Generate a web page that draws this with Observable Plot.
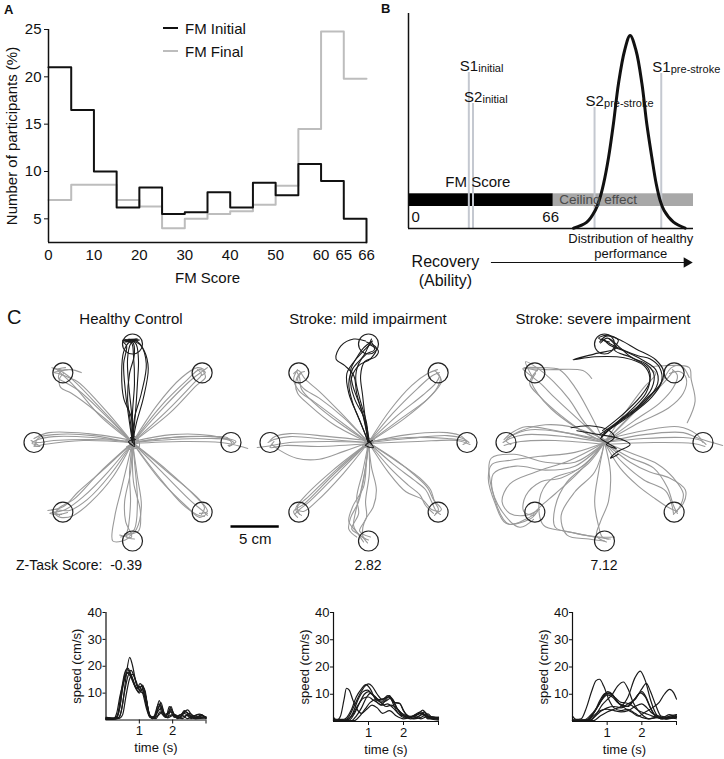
<!DOCTYPE html>
<html><head><meta charset="utf-8">
<script src="https://cdn.jsdelivr.net/npm/d3@7"></script>
<script src="https://cdn.jsdelivr.net/npm/@observablehq/plot@0.6"></script>
<style>
body{margin:0;background:#fff;overflow:hidden;font-family:"Liberation Sans",Arial,sans-serif;color:#111;}
#fig{position:relative;width:724px;height:759px;overflow:hidden;}
.abs{position:absolute;white-space:nowrap;line-height:1;}
.box{position:absolute;}
.leg{position:absolute;left:163px;display:flex;align-items:center;height:16px;font-size:15px;}
.leg span.ln{display:inline-block;width:15px;height:2px;margin-right:7px;}
</style></head><body><div id="fig"></div>
<script>
// ---------------- Panel A data ----------------
const fmBinStart = [0,5,10,15,20,25,30,35,40,45,50,55,60,65];
const fmBinEnd   = [5,10,15,20,25,30,35,40,45,50,55,60,65,66];
const fmInitial  = [21,16.5,10,6.2,8.3,5.5,5.7,7.8,6.2,8.8,7.5,10.8,9,5];
const fmFinal    = [7,8.6,8.6,7,6.3,4,5,5.5,5.8,6.5,8.5,14.5,24.8,19.8];
const fmTickValues = [0,10,20,30,40,50,60,65,66];
const pctTicks = [5,10,15,20,25];

// ---------------- Panel B data ----------------
const subjectNames = ["S1","S2","S2","S1"];
const subjectSubs  = ["initial","initial","pre-stroke","pre-stroke"];
const subjectX     = [27.5,29.4,84.8,115.2];
const subjectH     = [156,125,121,155];
const healthyDistX = [75.2,81.3,85.1,86.9,88.9,91.2,93.4,95.7,98.5,101,103.7,106.4,108.6,110.9,112.9,114.7,116.5,120.8,126.1];
const healthyDistY = [0.3,6.3,18,28,44.7,71.3,104.7,144.7,178,193,178,144.7,104.7,71.3,44.7,28,18,6.3,0.3];
const fmScaleMax = 66;
const abilityMax = 129.9;

// ---------------- Panel C data (cm; targets at 10 cm) ----------------
const targetX = [10,7.07,0,-7.07,-10,-7.07,0,7.07];
const targetY = [0,7.07,10,7.07,0,-7.07,-10,-7.07];

const healthyTop = [
"0,0 -0.3,2 -0.7,5 -0.9,8 -0.6,9.8 -1,10.3 0.6,10.4",
"0,0 0.2,2.5 0.9,5 1.4,8 0.8,9.9 -0.4,10.5 0.5,10.3",
"0,0 -0.1,3 -0.4,6 -0.5,8.5 -0.2,10 0.3,10.4",
"0,0 0.3,3 0.5,6 0.6,8.5 0.3,10.1 -0.7,10.4",
"0,0 -0.2,2 -0.5,4.5 -0.3,7 0.2,9 0,10.2 -0.8,10.2 0.4,10.5",
"0,0 0.4,2 1.1,4.5 1.6,7.5 1.2,9.3 0.4,10.3 -0.9,10.3",
"0.2,-0.2 -0.1,2.5 -0.9,4.5 -1.1,7 -0.9,9.2 -0.3,10.2 0.7,10.4",
"0,0 0,3 0.2,6 0.1,8.8 -0.1,10.1 -1,10.4 0.5,10.5",
"0.3,0.3 -0.4,0.1 0.2,-0.4 -0.2,0.5"
];
const healthyOther = [
"0,0 -3,3.2 -6,6.3 -7.2,7.2 -8.2,7.6 -7,7.3",
"0,0 -2.8,2.8 -5.5,5.3 -6.8,6.1 -7.5,6.5 -7.3,7.2 -6.6,7.4",
"0,0 -3.5,3 -6.2,5 -7.3,5.6 -7.4,6.5 -7,7",
"0,0 -2.5,3 -4.8,5.5 -5.6,6.2 -6.5,6.6 -7.5,7 -8,7.1 -6.3,7.4 -5.2,7.1",
"0,0 -3.2,2.6 -5.8,5.6 -7,6.8 -7.6,7.4 -6.8,7.6",
"0,0 -4,0.5 -8,0.6 -9.6,0.3 -10.2,-0.1 -9.6,-0.2",
"0,0.1 -4,0.3 -8,0.2 -9.8,0 -10.3,0.2",
"0,-0.1 -4,0.7 -8,0.8 -9.5,0.5 -9.9,-0.3 -9.4,-0.4",
"0,0 -5,0.2 -9,-0.2 -10,-0.4 -9.7,0",
"0,0.2 -4.5,0.9 -8.5,1 -10,0.4",
"0,0 4,0.3 8,0.4 9.8,0.3 10.3,0",
"0,0 4,0.5 8,0.6 9.6,0.5 10.1,-0.2 9.7,-0.3",
"0,-0.1 5,0.1 9,0 10.2,-0.2 11.7,-0.6",
"0,0.1 4,0.8 8,0.7 9.9,0.2",
"0,0 5,0.6 9,0.5 10.5,0.1 9.8,-0.4",
"0,0 3,3.4 6,6.4 7.2,7.3 7.6,7.6",
"0,0 3.5,3.2 6.2,6 7,6.9 6.6,7.4",
"0,0 2.8,3.6 5.5,6.3 6.8,7.4 7.4,7.1 7,6.8",
"0,0 3.8,3 6.5,5.8 7.4,6.6 7.2,7.2",
"0,0 2.5,3.8 5,6.6 6.6,7.6 7.3,7.4",
"0,0 -2.5,-3 -5,-5.5 -6.8,-6.8 -8.4,-7.2 -7.2,-7.3",
"0,0 -3,-2.8 -5.5,-5 -7,-6.5 -8.6,-6.9",
"0,0 -2,-3.5 -4.2,-6 -6,-7.4 -7.3,-7.6 -8,-7.2",
"0,0 -3.3,-3 -6,-5.8 -7.4,-6.6 -7.8,-7.3 -6.6,-7.1",
"0,0 -2.2,-3.2 -4.6,-5.8 -6.4,-6.9 -8.2,-6.8 -7.4,-7.4",
"0,0 -0.3,-3 -0.2,-6 -0.4,-8.5 -0.6,-9.6 0.2,-9.8",
"0,0 0.3,-3 0.5,-6 0.2,-8.8 -0.5,-9.4 -1.2,-9.6",
"0,0 -0.6,-2.5 -1.2,-5 -1.8,-7.5 -2,-10 -1,-10 -0.4,-9.7",
"0,0 0.1,-4 0.8,-7 0.6,-9 -0.8,-9.3",
"0,0 -0.2,-3 -0.8,-6 -0.7,-8 -0.1,-9.6 -1.3,-9.4",
"0,0 0.5,-3.5 0.9,-6.5 0.4,-8.8 -0.3,-9.5",
"0,0 3,-3 6,-6 7.2,-7 7.6,-7.4",
"0,0 3.5,-2.8 6.4,-5.5 7.3,-6.6 7,-7.3",
"0,0 2.6,-3.4 5,-6.2 6.5,-7.3 7.3,-7.5",
"0,0 3.8,-3.2 6.8,-5.8 7.6,-7 6.8,-7.2",
"0,0 2.8,-3.8 5.6,-6.6 6.8,-7.6 7.6,-7.2",
"0.6,0.4 -0.5,0.2 0.2,-0.5 -0.6,-0.4 0.5,-0.1",
"-0.8,0.1 0.3,0.6 0.7,-0.4 -0.3,-0.7"
];

const mildTop = [
"0,0 -0.8,2 -1.6,4 -2,6 -1.6,7.5 -0.5,8.8 0,9.8 0.3,10.5",
"0,0 -0.5,2.5 -1.2,5 -1.5,6.8 -2.4,7.8 -3.3,8.5 -2.8,9.8 -1.5,10.5 -0.3,10.3",
"0,0 -0.2,2 -0.9,4.5 -1.3,6.5 -1,8 -0.2,9 0.6,9.4 0.3,10.2",
"0,0 -1,2.5 -2,5 -2.2,7 -1.4,8.3 -0.3,9.5 0.2,10",
"0,0 -0.3,2.2 -0.6,4.8 -0.8,6.8 -0.4,8.2 0.7,8.7 1,9.3 0.2,9.9",
"0,0 -0.6,3 -1.6,5.8 -1.8,7.4 -1.2,8.6 -0.5,9.6 0.4,10.3",
"0.1,0 -0.4,2.4 -1.4,4.4 -1.8,6.2 -1,7.8 0.2,8.5 0.8,9.6 -0.2,10.2",
"0.4,0.2 -0.3,-0.3 0.5,-0.5 -0.2,0.4 0.3,-0.1"
];
const mildOther = [
"0,0 -3,2 -5.5,4 -6.8,5.4 -7,6.6 -7.3,7.2",
"0,0 -2.5,2.5 -5,4.5 -6.6,5.5 -7.2,6.4 -6.8,7.1",
"0,0 -3.5,1.8 -6,3.8 -7.2,5 -7.4,6 -7,7 -6.5,7.2",
"0,0 -2.8,3 -5,5.2 -6.4,6.4 -7.1,7.3 -7.6,7",
"0,0 -3.2,2.4 -5.6,4.2 -7,5.2 -7.6,6.4 -7.2,7.4",
"0,0 -4,0.3 -8,0.6 -9.6,0.3 -10.2,0",
"0,0 -4,0.1 -8,0 -9.8,-0.3 -11.3,-0.5",
"0,0 -2.5,-0.9 -5,-1.7 -7.3,-1.6 -9,-0.8 -9.8,-0.2",
"0,0.2 -4,0.6 -8,0.9 -9.5,0.6 -10,0.2",
"0,-0.1 -5,-0.4 -8.5,-0.3 -10,-0.5 -9.6,0.1",
"0,0 -3,-3 -6,-6 -7,-6.8 -7.5,-7.3",
"0,0 -3.3,-2.8 -6.2,-5.6 -7.2,-6.5 -7,-7.3",
"0,0 -2.6,-3.2 -5.3,-6 -6.6,-7 -7.3,-6.8",
"0,0 -3.5,-3.2 -6.5,-6.2 -7.6,-7 -7.2,-7.6",
"0,0 -3.6,-2.8 -6.4,-5.4 -7.4,-6.8 -6.8,-7.4",
"0,0 2.5,3 5,5.5 6.5,6.8 7.2,7.1",
"0,0 3,2.8 5.5,4.8 6.8,6 7.2,6.8 6.7,7.3",
"0,0 2.2,3.3 4.4,5.8 6,7 7,7.4",
"0,0 3.4,2.5 6,4.4 7,5.6 7.3,6.6 6.9,7.1",
"0,0 3.6,2.4 6.2,4.6 7.4,6.2 7,7",
"0,0 4,0.4 8,0.7 9.6,0.4 10.2,0",
"0,0 4,0.8 8,1 9.5,0.6 9.9,0.1",
"0,-0.1 5,0.1 9,0.2 10.3,-0.2",
"0,0.1 4,0.5 8,0.4 10,0.1 9.6,-0.2",
"0,0 2.5,-2.2 4.6,-3.8 5.8,-4.8 6.4,-6 6.9,-7 7.3,-7.3",
"0,0 2.2,-2.6 4,-4.3 5.2,-5.3 5.8,-6.4 6.6,-7.2",
"0,0 3,-2 5.2,-3.6 6.3,-4.8 6.7,-6 7.1,-6.8 6.7,-7.4",
"0,0 2,-3 3.8,-5 5.5,-5.8 6.4,-6.8 7.2,-7",
"0,0 2.8,-1.8 4.8,-3.4 6,-4.6 6.6,-5.8 7.4,-6.8 6.8,-7.2",
"0,0 -0.3,-2.5 -0.8,-5 -1.3,-7 -1.5,-8.5 -0.8,-9.5 0,-9.9",
"0,0 0.3,-2.5 0.8,-4.8 0.5,-6.5 -0.4,-8 -0.6,-9.4 -0.1,-10.2",
"0,0 -0.6,-3 -1.2,-5.6 -1,-7.2 -1.7,-8.8 -1,-9.3 -0.3,-9.8",
"0,0 0.1,-3 -0.3,-6 -0.2,-7.6 -0.9,-9 0.2,-9.6",
"0,0 -0.2,-2 -0.5,-4.5 -1.6,-6.5 -2,-8 -1.2,-9.1 -0.5,-10.1",
"0,0 -0.4,-3.2 -1,-6 -1.8,-7.6 -2,-8.8 -1.2,-9.6",
"0.6,0.3 -0.5,0.4 0.1,-0.6 -0.6,-0.3 0.5,0"
];

const severeTop = [
"-0.2,0.8 2,2.5 4.2,4.2 5.4,6 5.2,7.4 3.8,8.4 2.2,9.2 0.5,9.9 0,10.4",
"-0.3,0.6 1.5,2.2 3.5,3.8 4.8,5.5 5,7 4.2,8 2.8,8.6 1.6,9.6 0.3,10.6 -0.4,10.1",
"0,1 2.4,2.6 4.8,4.6 5.8,6.2 5.6,7.6 4.6,8.5 3.4,8.8 0.8,9.9 -0.3,10.5",
"-0.5,0.8 1.2,2 3,3.6 4.2,5 4.6,6.6 4,7.8 2,8.6 -1,8.7 -3.2,8.4 -1,9 1.2,9.6 0.5,10.5",
"-0.2,1.2 1.8,2.8 3.6,4.6 4.6,6.2 4.4,7.6 2.8,8.6 1,9.4 1.4,10.4 0.2,10.8 -0.5,10.2",
"-3.4,1.5 -1.5,1.7 0.5,1.2 1,0.5 0.2,-0.2 1.2,-0.6 -0.3,0.3",
"-0.4,0.4 0.8,1.6 2.8,3 4.4,4.6 5.6,5.8 6,7.2 5.2,8.4 3.2,9.5 1.6,10.4 0.3,10.9 -0.6,10.6 0.5,10.2",
"-2.8,1.2 -0.5,0.8 1.5,0.4 2.6,-0.2 1.2,-1 0.6,-1.6 1.4,-1.2"
];
const severeOther = [
"0,0 -4,0.6 -8,0.8 -9.6,0.4 -10.3,0",
"0,0.2 -4,1 -7.5,1.3 -9.4,0.7 -10,0.2 -9.5,-0.2",
"0,-0.2 -5,0.2 -8.5,0.1 -10.2,-0.3",
"0,0.3 -3,1.5 -6,1.8 -8.5,1.2 -9.8,0.5",
"0,0 -4,1 -8,1.6 -9.4,1 -10.2,0.3",
"0,0 -2.5,2.2 -5,4.5 -6.5,6 -7.5,6.8 -8.3,7.5 -6.8,7.3",
"0,0 -3,1.6 -5.4,3.4 -6.8,5 -7.4,6.2 -7,7",
"0,0 -1.5,3 -3,5.6 -4.6,7.4 -6.4,7.6 -8.2,7.6 -6,7.4 -2.2,7.3 -1.3,6.5",
"0,0 -2,1 -4.5,2.8 -6.5,4.6 -7.6,6 -6.8,7.4",
"0,0 -2,2 -3.6,4.4 -5.2,6.2 -6.6,7.4 -8,8.2 -7.4,6.8",
"0,0 2.5,2.6 5,5 6.4,6.5 7,7.3",
"0,0 3,2.2 5.6,4 7,5.6 7.4,6.8 6.9,7.4",
"0,0 2.2,3.2 4,5.6 5.2,7 4.6,7.6 6.2,7.8 8.6,7.6 8.8,6.4 9.2,4.2 8.4,2",
"0,0 3.5,2 6.5,3.5 8,5 8.3,6.5 7.6,7.2 6.6,7",
"0,0 3,3 5.6,5.8 6.8,7.6 7.8,7.8 8.6,6.6",
"0,0 4,0.4 8,0.5 9.8,0.2 10.3,-0.2",
"0,0 4,0.8 8,1 9.6,0.4 12,-0.3",
"0,-0.2 5,0 9,-0.1 10.2,-0.4",
"0,0.3 4,1.2 7.5,1.6 9.4,0.8 10,0",
"0,0 2.5,-1.5 5,-2.6 6.4,-4.6 7,-6.4 7.4,-7.2",
"0,0 2,-2.2 4,-3.8 6.2,-4.9 6.8,-6.2 7,-7.2",
"0,0 3,-1.2 5.4,-2.2 7,-3.6 8,-5.2 7.6,-6.6 7,-7.3",
"0,0 1.6,-2.6 3.4,-4.4 5,-5.6 6.5,-6.6 7.4,-7",
"0,0 2.6,-2 4.6,-3 6.6,-3.6 8.2,-4.8 8,-6.2 7.2,-7",
"0,0 -0.6,-3 -1,-6 -0.6,-8.5 -0.2,-9.6 0.6,-9.8",
"0,0 -1.5,-2 -3.8,-4 -5,-6.5 -5,-8.6 -3,-9.2 -0.6,-9.6 1,-9.6",
"0,0 0.6,-3 0.4,-6 -0.4,-8 -0.8,-9.5 0.2,-10.1",
"0,0 -2.5,-2.6 -5.5,-3.8 -6.6,-5.8 -6.2,-8.4 -4,-9 -1.5,-9.5 0.4,-9.8",
"0,0 -1,-3 -3,-5 -4.4,-7.4 -3.8,-9.4 -1.6,-9.8 0,-10",
"0,0 -3,-2.4 -6,-2.8 -9,-2.4 -11.3,-3.2 -11,-6.2 -9.7,-8.3 -8,-7.8 -7,-7.2",
"0,0 -3,-1 -6.5,-1.4 -9.5,-1.8 -11.4,-2.2 -11.8,-3.6 -11.1,-6.2 -10,-8.2 -7.6,-7.8 -6.8,-7",
"0,0 -2.6,-3 -5,-5.2 -6.4,-6.4 -7.2,-7.2",
"0,0 -3.5,-1.8 -7,-3 -9.6,-4.2 -10.4,-6 -9.6,-7.2 -8,-7.4 -6.6,-6.8",
"0,0 -2,-2.2 -4.4,-3.6 -6.5,-4 -8,-5.4 -8.2,-7 -7.2,-7.4",
"0,0 -3,-2 -6,-2 -9.2,-1.2 -11.5,-1.6 -11.6,-4 -10.4,-7 -8.6,-8.6 -7.2,-7.8"
];
const zScores = ["-0.39","2.82","7.12"];
const groupTitles = ["Healthy Control","Stroke: mild impairment","Stroke: severe impairment"];

// ---------------- Speed profiles (time s, speed cm/s) ----------------
const healthySpeed = [
"0,0.8 0.2,0.5 0.4,1 0.5,6 0.6,16 0.71,23.3 0.8,20 0.9,14 1.0,12 1.1,13 1.2,8 1.3,2 1.4,0.5 1.55,4 1.65,6.5 1.75,2 1.85,1 1.95,4 2.05,2 2.2,0.8 2.35,3.5 2.5,1.5 2.7,0.5 2.85,2 3,0.5",
"0,0.3 0.25,0.5 0.35,2 0.45,10 0.55,17 0.65,19.3 0.75,17 0.9,12 1.0,10 1.08,11.5 1.18,8 1.3,1.5 1.45,0.8 1.6,7.2 1.7,3 1.8,1 1.9,5 2.0,3 2.1,1 2.3,2.5 2.45,3.8 2.6,1.5 2.8,2.2 3,1",
"0,1 0.3,0.8 0.4,4 0.5,12 0.62,17.5 0.72,16.5 0.85,13 0.97,10.5 1.07,12.5 1.17,11 1.25,5 1.35,1 1.5,2 1.62,5.5 1.75,1.5 1.95,3 2.1,1.5 2.3,0.5 2.5,2.5 2.7,1 2.9,1.5 3,0.5",
"0,0.5 0.35,0.5 0.45,3 0.55,10 0.65,16 0.75,18.5 0.85,16 0.95,12 1.05,11 1.12,12 1.22,7 1.32,1 1.45,0.5 1.55,3 1.68,4.5 1.8,1 2.0,2 2.15,0.5 2.4,3 2.6,1 3,0.8",
"0,0.2 0.3,0.3 0.42,5 0.52,14 0.62,18.8 0.7,18 0.8,15 0.92,11.5 1.02,13.5 1.1,12 1.2,6 1.3,2 1.42,1 1.58,6 1.7,2 1.85,2.5 1.95,5 2.05,1.5 2.2,1 2.35,2.5 2.55,0.5 2.75,2 3,1",
"0,0.6 0.4,0.6 0.5,2 0.6,9 0.7,15 0.8,17 0.9,14.5 1.0,11 1.1,10 1.18,9 1.28,3 1.38,0.5 1.55,1.5 1.7,3 1.85,0.8 2.05,2 2.25,1 2.45,1.8 2.7,0.5 3,0.8",
"0,0.4 0.22,0.4 0.32,2.5 0.42,9 0.55,15 0.66,17.8 0.78,15.5 0.9,12 1.0,12.5 1.1,10 1.22,4 1.32,1 1.5,0.5 1.62,3 1.78,1 1.92,3.5 2.05,1 2.25,2 2.45,0.5 2.65,1.5 2.85,1 3,1.2"
];
const mildSpeed = [
"0,1.5 0.1,0.5 0.2,2 0.3,8 0.37,12.2 0.45,11.5 0.55,8 0.65,5 0.8,3 0.95,4.5 1.1,6 1.25,5 1.4,3 1.6,4 1.8,2 2.0,1 2.2,1.5 2.5,3.5 2.7,1 3,1.5",
"0,0 0.3,0.3 0.45,2 0.6,6 0.75,10 0.9,13 1.0,13.8 1.1,13 1.25,10 1.4,8 1.55,9.5 1.7,8 1.85,4 2.0,2 2.2,1.5 2.4,2.5 2.55,4.2 2.7,2 3,1.5",
"0,0.5 0.4,0.5 0.55,3 0.7,8 0.85,11 0.98,11.5 1.1,10 1.25,8 1.4,7.5 1.55,9 1.65,8.5 1.8,5 1.95,3 2.1,1.5 2.3,2 2.5,3 2.7,1.5 3,1",
"0,0.2 0.5,0.2 0.65,2 0.8,5 0.95,9 1.05,10.3 1.2,9 1.35,7 1.5,7.5 1.62,8.5 1.75,7 1.9,6.5 2.0,4 2.15,2 2.35,1.5 2.55,2.5 2.8,1 3,0.8",
"0,0.8 0.3,0.8 0.5,4 0.65,9 0.8,12 0.92,13.5 1.05,12 1.2,8 1.35,6 1.5,8 1.6,9.5 1.72,6 1.85,3 2.0,2 2.2,1 2.45,2 2.6,3.5 2.75,1.5 3,1.2",
"0,0.3 0.35,0.5 0.55,2.5 0.7,6 0.85,8.5 1.0,9 1.12,8 1.25,7 1.4,6 1.55,6.5 1.7,5 1.85,3 2.0,1.5 2.25,2 2.5,1 2.7,2 3,1",
"0,0.5 0.45,0.5 0.6,3 0.75,7 0.88,10 1.0,11 1.15,9.5 1.3,8 1.45,8.5 1.58,9 1.72,7 1.88,6.8 2.0,4 2.15,1.5 2.35,2.5 2.55,3 2.75,1 3,0.5",
"0,0.2 0.6,0.3 0.75,2 0.9,4.5 1.05,7 1.2,8 1.35,7 1.5,5.5 1.65,6 1.8,5 1.95,3 2.1,2 2.3,1 2.5,1.5 2.7,2.8 2.85,1 3,1.5"
];
const severeSpeed = [
"0,2 0.1,0.8 0.25,1 0.4,5 0.55,11 0.68,15 0.78,15.5 0.9,13 1.05,8 1.2,5 1.4,4 1.6,4.5 1.8,3 2.0,1.5 2.2,1 2.5,1.5 2.7,1 3,2",
"0,0.2 0.35,0.3 0.55,2 0.75,6 0.9,9.5 1.02,11 1.15,10 1.3,7 1.45,6 1.6,5.5 1.75,7.5 1.9,10 2.0,11 2.12,9 2.25,5 2.4,2 2.6,1 2.8,2 3,2.5",
"0,0.5 0.5,0.5 0.7,3 0.85,6 1.0,8 1.15,10 1.3,13 1.47,14.5 1.6,12 1.75,7 1.9,4 2.05,2 2.2,1 2.4,1.5 2.6,1 3,1.5",
"0,0.3 0.6,0.3 0.8,2 1.0,3.5 1.2,4.5 1.4,5.5 1.6,9 1.8,16 1.95,18.5 2.1,15 2.25,8 2.4,3 2.55,1 2.7,1.5 3,2",
"0,0.5 0.4,0.5 0.6,3 0.8,7 0.95,10 1.05,10.5 1.2,9 1.4,6 1.55,5.5 1.7,7 1.85,9 2.0,12 2.13,14 2.25,11 2.4,6 2.55,2 2.75,1.5 3,1",
"0,0.2 0.3,0.3 0.5,2 0.7,5 0.85,8 1.0,9.8 1.15,9 1.3,7 1.5,5 1.7,3.5 1.9,2 2.1,3.5 2.3,5 2.5,7 2.65,10 2.8,11.8 2.92,10.5 3,8.2",
"0,0.4 0.5,0.4 0.7,2.5 0.85,4 1.0,5 1.2,5.5 1.4,5 1.6,6.5 1.8,8 1.95,10.5 2.1,9 2.25,5 2.4,2 2.6,1.5 2.8,2.5 3,1.5",
"0,0.3 0.4,0.2 0.6,2 0.8,4 1.0,4.5 1.2,4 1.4,3.5 1.6,4 1.8,5.5 2.0,6.5 2.15,5 2.3,3 2.5,2 2.7,1 2.9,1.5 3,2.5",
"0,0.5 0.45,0.6 0.65,4 0.8,8 0.95,10.3 1.1,10 1.25,8.5 1.4,7 1.55,6.8 1.7,6 1.9,4 2.1,3 2.3,2 2.5,1.5 2.75,1 3,1.8"
];

// ---------------- helpers ----------------
const FONT = '"Liberation Sans", Arial, sans-serif';
const fig = document.getElementById("fig");
function place(el, left, top) { const d = document.createElement("div"); d.className = "box"; d.style.left = left + "px"; d.style.top = top + "px"; d.appendChild(el); fig.appendChild(d); }
function label(html, left, top, css = "") { const d = document.createElement("div"); d.className = "abs"; d.style.left = left + "px"; d.style.top = top + "px"; d.style.cssText += css; d.innerHTML = html; fig.appendChild(d); return d; }
function parsePaths(list, tag) {
  const rows = [];
  list.forEach((s, i) => s.trim().split(/\s+/).forEach(p => { const [a, b] = p.split(",").map(Number); rows.push({id: tag + i, a, b}); }));
  return rows;
}
const styleBase = (fs) => ({background: "transparent", overflow: "visible", fontFamily: FONT, fontSize: fs + "px", color: "#111"});

// ---------------- Panel A ----------------
const disp = v => v <= 65 ? v : 65 + (v - 65) * 5;
function stepRows(vals, drop) {
  const r = fmBinStart.map((s, i) => ({x: disp(s), y: vals[i]}));
  r.push({x: disp(fmBinEnd[fmBinEnd.length - 1]), y: vals[vals.length - 1]});
  if (drop) r.push({x: disp(66), y: 2.5});
  return r;
}
const plotA = Plot.plot({
  width: 372, height: 290, marginLeft: 48, marginRight: 6, marginTop: 29, marginBottom: 48,
  style: styleBase(15),
  x: {domain: [0, disp(66)], ticks: fmTickValues.map(disp), tickFormat: d => d === disp(66) ? "66" : String(d), tickSize: 0, tickPadding: 7, label: "FM Score", labelAnchor: "center", labelOffset: 40, labelArrow: "none"},
  y: {domain: [2.5, 25], ticks: pctTicks, tickSize: 4, tickPadding: 3, label: "Number of participants (%)", labelAnchor: "center", labelOffset: 42, labelArrow: "none"},
  marks: [
    Plot.line(stepRows(fmFinal, false), {x: "x", y: "y", curve: "step-after", stroke: "#bdbdbd", strokeWidth: 2}),
    Plot.line(stepRows(fmInitial, true), {x: "x", y: "y", curve: "step-after", stroke: "#111", strokeWidth: 2}),
    Plot.ruleX([0], {y1: 2.5, y2: 25, stroke: "#111", strokeWidth: 1.5}),
    Plot.ruleY([2.5], {x1: 0, x2: disp(66), stroke: "#111", strokeWidth: 1.5})
  ]
});
place(plotA, 0, 0);
label("A", 4, 3, "font-weight:bold;font-size:13px;");
const l1 = document.createElement("div"); l1.className = "leg"; l1.style.top = "20px"; l1.innerHTML = '<span class="ln" style="background:#111"></span>FM Initial'; fig.appendChild(l1);
const l2 = document.createElement("div"); l2.className = "leg"; l2.style.top = "43px"; l2.innerHTML = '<span class="ln" style="background:#bdbdbd"></span>FM Final'; fig.appendChild(l2);

// ---------------- Panel B ----------------
const subj = subjectX.map((x, i) => ({x, h: subjectH[i], name: subjectNames[i], sub: subjectSubs[i]}));
const bell = healthyDistX.map((x, i) => ({x, y: healthyDistY[i]}));
const plotB = Plot.plot({
  width: 354, height: 300, marginLeft: 38, marginRight: 31, marginTop: 13, marginBottom: 72,
  style: styleBase(15),
  x: {domain: [0, abilityMax], axis: null},
  y: {domain: [0, 215], axis: null},
  marks: [
    Plot.rect([{x1: 0, x2: fmScaleMax}], {x1: "x1", x2: "x2", y1: 22, y2: 34.7, fill: "#000"}),
    Plot.rect([{x1: fmScaleMax, x2: abilityMax}], {x1: "x1", x2: "x2", y1: 22, y2: 34.7, fill: "#a8a8a8"}),
    Plot.ruleX(subj, {x: "x", y1: 0, y2: "h", stroke: "#c4c8d0", strokeWidth: 2}),
    Plot.line(bell, {x: "x", y: "y", stroke: "#111", strokeWidth: 3, curve: "catmull-rom"}),
    Plot.ruleX([0], {y1: 0, y2: 215, stroke: "#111", strokeWidth: 1.5}),
    Plot.ruleY([0], {x1: 0, x2: abilityMax, stroke: "#111", strokeWidth: 1.5}),
    Plot.text(subj, {x: "x", y: d => d.h + 2, text: "name", textAnchor: "start", lineAnchor: "bottom", dx: -9, fontSize: 15, fill: "#111"}),
    Plot.text(subj, {x: "x", y: d => d.h + 0.5, text: "sub", textAnchor: "start", lineAnchor: "bottom", dx: 9.5, fontSize: 11, fill: "#111"}),
    Plot.text(["FM Score"], {x: 16.8, y: 41.3, textAnchor: "start", lineAnchor: "bottom", fontSize: 15, fill: "#111"}),
    Plot.text(["Ceiling effect"], {x: 68.7, y: 24.5, textAnchor: "start", lineAnchor: "bottom", fontSize: 13.5, fill: "#4a4a4a"}),
    Plot.text(["0"], {x: 1.4, y: 6.3, textAnchor: "start", lineAnchor: "bottom", fontSize: 15, fill: "#111"}),
    Plot.text(["66"], {x: 61, y: 6.3, textAnchor: "start", lineAnchor: "bottom", fontSize: 15, fill: "#111"}),
    Plot.text(["Distribution of healthy"], {x: 101.3, y: -14.7, textAnchor: "middle", lineAnchor: "bottom", fontSize: 13, fill: "#111"}),
    Plot.text(["performance"], {x: 101.3, y: -29.3, textAnchor: "middle", lineAnchor: "bottom", fontSize: 13, fill: "#111"}),
    Plot.text(["Recovery"], {x: 16.8, y: -38.7, textAnchor: "middle", lineAnchor: "bottom", fontSize: 16, fill: "#111"}),
    Plot.text(["(Ability)"], {x: 16.8, y: -57, textAnchor: "middle", lineAnchor: "bottom", fontSize: 16, fill: "#111"}),
    Plot.ruleY([-34], {x1: 37.8, x2: 126, stroke: "#111", strokeWidth: 1.2}),
    Plot.dot([0], {x: 126.8, y: -34, symbol: "triangle2", r: 5, rotate: 90, fill: "#111", stroke: "none"})
  ]
});
place(plotB, 370, 0);
label("B", 381, 2, "font-weight:bold;font-size:13px;");

// ---------------- Panel C: trajectories ----------------
const PX = 9.85;
const targets = targetX.map((x, i) => ({x, y: targetY[i]}));
function trajPlot(topPaths, otherPaths, left, width, centerPx, extra = []) {
  const xdom = [-(centerPx - left) / PX, (left + width - centerPx) / PX];
  const g = parsePaths(otherPaths, "g"), b = parsePaths(topPaths, "b");
  const p = Plot.plot({
    width, height: 240, margin: 0,
    style: styleBase(15),
    x: {domain: xdom, axis: null},
    y: {domain: [-120 / PX, 120 / PX], axis: null},
    marks: [
      Plot.line(g, {x: "a", y: "b", z: "id", stroke: "#9a9a9a", strokeWidth: 1.1, curve: "catmull-rom"}),
      Plot.line(b, {x: "a", y: "b", z: "id", stroke: "#1c1c1c", strokeWidth: 1.1, curve: "catmull-rom"}),
      Plot.dot(targets, {x: "x", y: "y", r: 10, stroke: "#222", strokeWidth: 1.2, fill: "none"}),
      ...extra
    ]
  });
  place(p, left, 322);
}
trajPlot(healthyTop, healthyOther, 12, 290, 132, [
  Plot.ruleY([-8.53], {x1: 10, x2: 14.9, stroke: "#000", strokeWidth: 2.5}),
  Plot.text(["5 cm"], {x: 12.45, y: -10.3, textAnchor: "middle", lineAnchor: "bottom", fontSize: 15, fill: "#111"})
]);
trajPlot(mildTop, mildOther, 248, 240, 368);
trajPlot(severeTop, severeOther, 484, 240, 604);

label("C", 7, 307, "font-size:20px;");
[131, 368, 603].forEach((cx, i) => label(groupTitles[i], cx, 311, "font-size:15px;transform:translateX(-50%);"));
label("Z-Task Score:&nbsp; " + zScores[0], 16, 558, "font-size:14px;");
label(zScores[1], 368, 558, "font-size:14px;transform:translateX(-50%);");
label(zScores[2], 604, 558, "font-size:14px;transform:translateX(-50%);");

// ---------------- Speed plots ----------------
function speedPlot(curves, left, ml, mr, mb) {
  const rows = parsePaths(curves, "s");
  const p = Plot.plot({
    width: 170, height: 160, marginLeft: ml, marginRight: mr, marginTop: 12, marginBottom: mb,
    style: styleBase(13),
    x: {domain: [0, 3], ticks: [1, 2, 3], tickFormat: d => d === 3 ? "" : String(d), tickSize: 4, tickPadding: 2, label: "time (s)", labelAnchor: "center", labelOffset: 32, labelArrow: "none"},
    y: {domain: [0, 40], ticks: [10, 20, 30, 40], tickSize: 3, tickPadding: 1, label: "speed (cm/s)", labelAnchor: "center", labelOffset: 34, labelArrow: "none"},
    marks: [
      Plot.line(rows, {x: "a", y: "b", z: "id", stroke: "#1a1a1a", strokeWidth: 1.2, curve: "monotone-x"}),
      Plot.ruleX([0], {y1: 0, y2: 40, stroke: "#111", strokeWidth: 1.2}),
      Plot.ruleY([0], {x1: 0, x2: 3, stroke: "#111", strokeWidth: 1.2})
    ]
  });
  place(p, left, 600);
}
speedPlot(healthySpeed, 50, 55.5, 14.5, 40.5);
speedPlot(mildSpeed, 280, 53, 12, 39);
speedPlot(severeSpeed, 520, 52, 14, 39);
</script></body></html>
